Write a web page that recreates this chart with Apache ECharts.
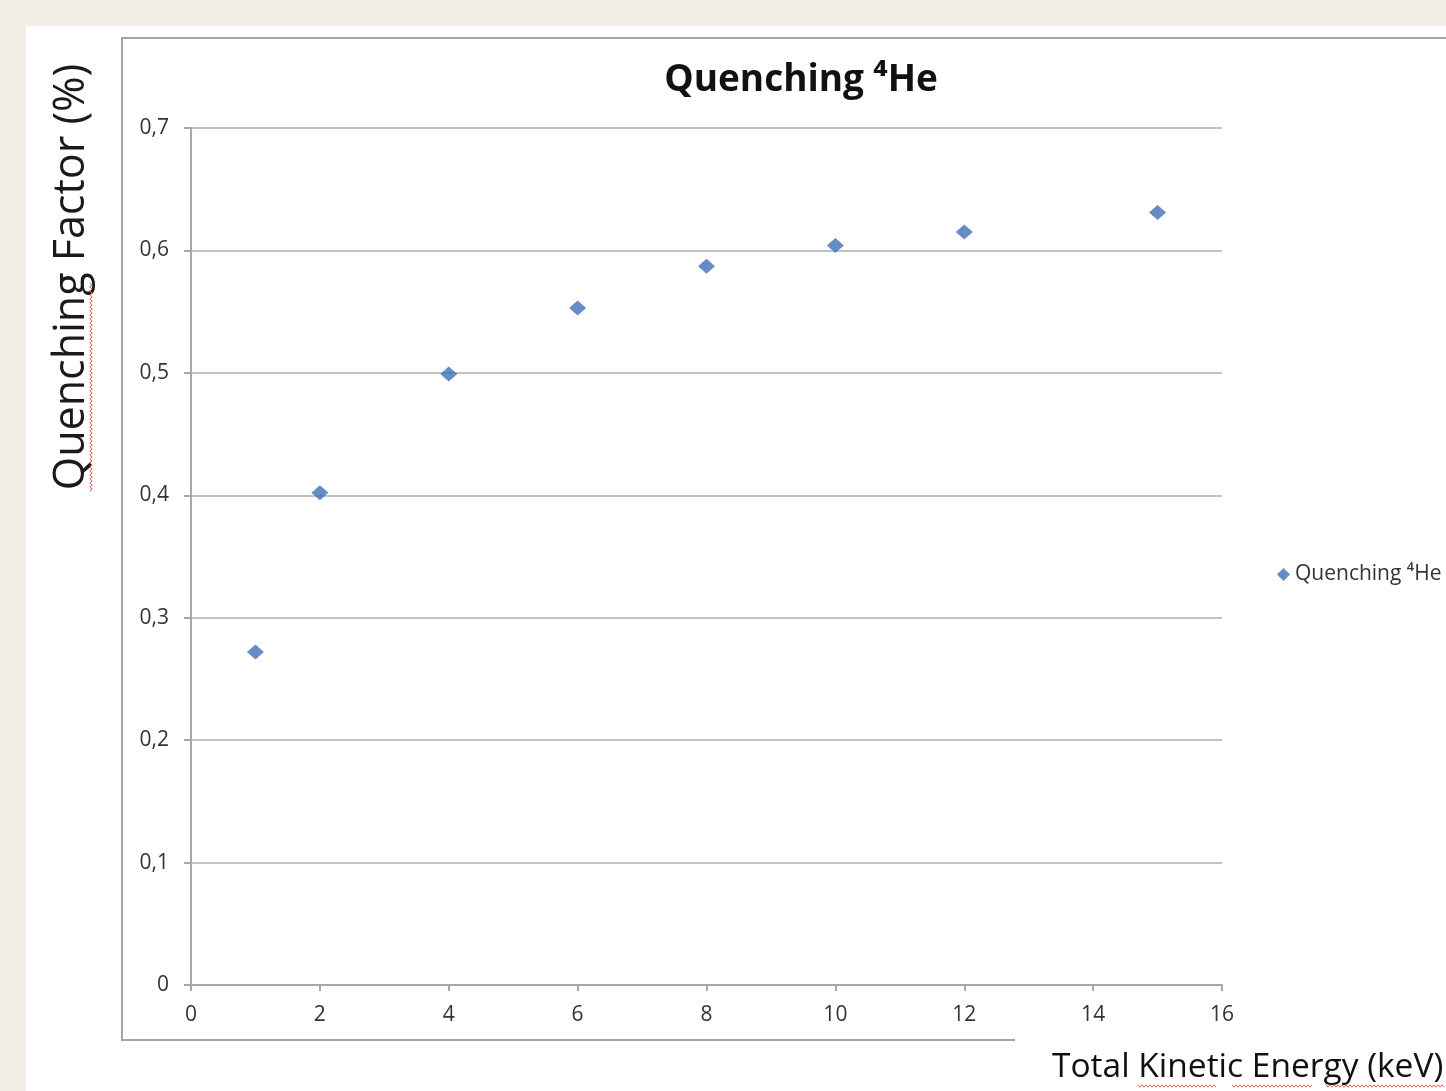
<!DOCTYPE html>
<html>
<head>
<meta charset="utf-8">
<script src="https://cdn.jsdelivr.net/npm/echarts@6/dist/echarts.min.js"></script>
<style>
  html, body { margin: 0; padding: 0; background: #f2efe7; }
  #chart { width: 1446px; height: 1091px; }
</style>
</head>
<body>
<div id="chart"></div>
<script>
// Total kinetic energy (keV) and measured quenching factor for 4He
const energy = [1, 2, 4, 6, 8, 10, 12, 15];
const quenching = [0.272, 0.402, 0.499, 0.553, 0.587, 0.604, 0.615, 0.631];
const seriesName = 'Quenching \u2074He';
const chartTitle = 'Quenching \u2074He';
const xTitle = 'Total Kinetic Energy (keV)';
const yTitle = 'Quenching Factor (%)';

const points = energy.map((e, i) => [e, quenching[i]]);

// red spell-check style wavy underline
function squiggle(x0, x1, y, vertical) {
  const pts = [];
  let k = 0;
  for (let p = x0; p <= x1; p += 2, k++) {
    const off = (k % 2 === 0) ? -1.2 : 1.2;
    pts.push(vertical ? [y + off, p] : [p, y + off]);
  }
  return {
    type: 'polyline', silent: true,
    shape: { points: pts },
    style: { stroke: '#e0605a', lineWidth: 1, fill: null }
  };
}

const FONT = '"Open Sans", "Noto Sans", sans-serif';

const chart = echarts.init(document.getElementById('chart'));
chart.setOption({
  backgroundColor: '#f2efe7',
  animation: false,
  title: {
    text: chartTitle,
    left: 796, top: 57, textAlign: 'center',
    textStyle: { fontFamily: FONT, fontSize: 37, fontWeight: 'bold', color: '#111' }
  },
  legend: {
    left: 1272, top: 559,
    itemWidth: 13, itemHeight: 13, itemGap: 6,
    icon: 'diamond',
    textStyle: { fontFamily: FONT, fontSize: 21, color: '#333' },
    data: [seriesName]
  },
  grid: { left: 191, top: 128, right: 224, bottom: 106 },
  xAxis: {
    type: 'value', min: 0, max: 16, interval: 2,
    axisLine: { show: true, lineStyle: { color: '#a8a8a8', width: 2 } },
    axisTick: { show: true, length: 6, lineStyle: { color: '#a8a8a8', width: 2 } },
    axisLabel: { fontFamily: FONT, fontSize: 21, color: '#333', margin: 20 },
    splitLine: { show: false }
  },
  yAxis: {
    type: 'value', min: 0, max: 0.7, interval: 0.1,
    axisLine: { show: true, lineStyle: { color: '#a8a8a8', width: 2 } },
    axisTick: { show: true, length: 7, lineStyle: { color: '#a8a8a8', width: 2 } },
    axisLabel: {
      fontFamily: FONT, fontSize: 21, color: '#333', margin: 22,
      formatter: v => (Math.round(v * 10) / 10).toString().replace('.', ',')
    },
    splitLine: { show: true, lineStyle: { color: '#c2c2c2', width: 2 } }
  },
  series: [{
    name: seriesName,
    type: 'scatter',
    symbol: 'diamond',
    symbolSize: [17, 15],
    itemStyle: { color: '#3f6fb5' },
    data: points
  }],
  graphic: [
    // white chart sheet
    { type: 'rect', z: -10, silent: true, shape: { x: 26, y: 26, width: 1430, height: 1075 }, style: { fill: '#ffffff' } },
    // plot frame
    { type: 'polyline', z: -5, silent: true,
      shape: { points: [[1450, 38], [122, 38], [122, 1040], [1015, 1040]] },
      style: { stroke: '#a6a6a6', lineWidth: 2, fill: null } },
    // axis titles
    { type: 'text', silent: true, x: 72, y: 277, rotation: Math.PI / 2,
      style: { text: yTitle, fontFamily: FONT, fontSize: 43, fill: '#1a1a1a', align: 'center', verticalAlign: 'middle' } },
    { type: 'text', silent: true, x: 1052, y: 1067,
      style: { text: xTitle, fontFamily: FONT, fontSize: 33.5, fill: '#111', align: 'left', verticalAlign: 'middle' } },
    squiggle(283, 492, 91, true),
    squiggle(1138, 1216, 1086, false),
    squiggle(1232, 1313, 1086, false),
    squiggle(1326, 1444, 1086, false)
  ]
});
</script>
</body>
</html>
